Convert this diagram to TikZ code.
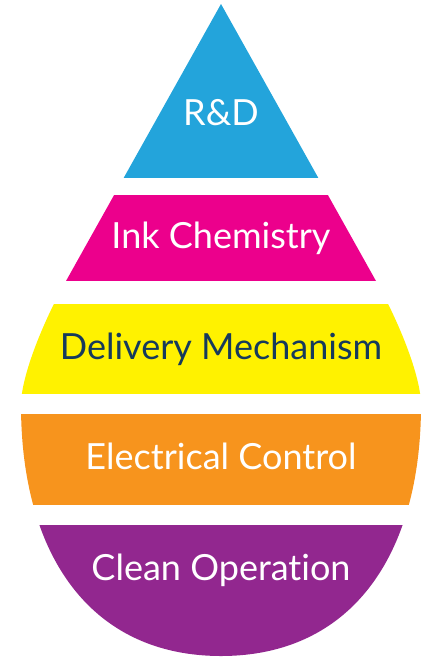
\documentclass[tikz,border=0pt]{standalone}
\usepackage{fontspec}
\setmainfont{Lato}[Ligatures=NoCommon]
\definecolor{rdblue}{RGB}{35,164,219}
\definecolor{inkpink}{RGB}{236,0,140}
\definecolor{delyellow}{RGB}{255,242,0}
\definecolor{elecorange}{RGB}{247,148,29}
\definecolor{cleanpurple}{RGB}{146,39,143}
\definecolor{darktext}{RGB}{22,58,92}
\tikzset{
  bandlabel/.style={font=\fontsize{20.5}{24}\selectfont, inner sep=0pt, anchor=center}
}
\begin{document}
\begin{tikzpicture}[x=0.02cm, y=-0.02cm]
        \useasboundingbox (0,0) rectangle (435,659);

        % Gota recortada em faixas
        \begin{scope}
          \clip (221,4) -- (66,281) .. controls (43.5,321) and (21,376) .. (21,405)
            .. controls (21,555.6) and (91,656) .. (221,656)
            .. controls (351,656) and (421,555.6) .. (421,405)
            .. controls (421,376) and (398.5,321) .. (376,281) -- cycle;
          \foreach \top/\bot/\col in {0/178/rdblue,195/281/inkpink,304/394/delyellow,414/505/elecorange,525/660/cleanpurple} {
            \fill[\col] (0,\top) rectangle (435,\bot);
          }
        \end{scope}

        % Rotulos das faixas
        \foreach \y/\name/\txt/\tcol in {113/rd/R\&D/white,238/ink/Ink Chemistry/white,349/delivery/Delivery Mechanism/darktext,456/electrical/Electrical Control/white,570/clean/Clean Operation/white} {
          \node[bandlabel, text=\tcol] (\name) at (221,\y) {\txt};
        }
      \end{tikzpicture}
\end{document}
